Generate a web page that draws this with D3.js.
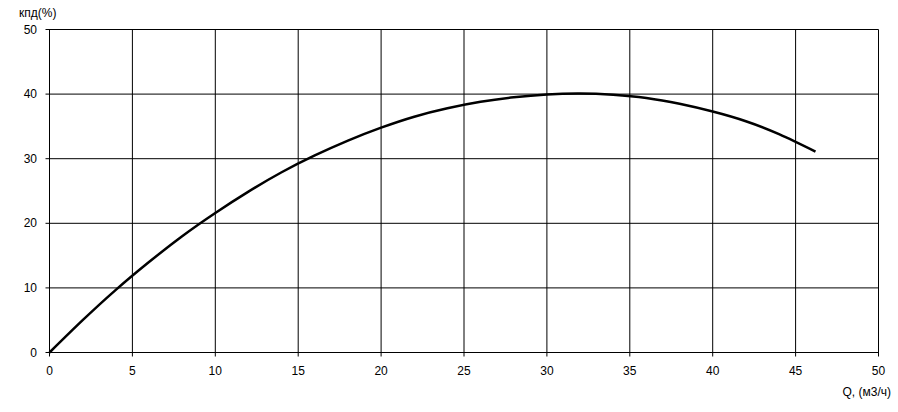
<!DOCTYPE html>
<html><head><meta charset="utf-8">
<script src="https://cdn.jsdelivr.net/npm/d3@7"></script>
<style>body{margin:0;background:#fff}svg{display:block}text{font-family:"Liberation Sans",Arial,sans-serif;font-size:12px;fill:#000}</style>
</head><body><svg id="c" width="898" height="412"></svg>
<script>
const flowQ = [0,2,4,6,8,10,12,14,16,18,20,22,24,26,28,30,32,34,36,38,40,42,44,46.2];
const efficiency = [0,5.0,9.7,14.0,18.0,21.6,24.9,27.9,30.5,32.8,34.8,36.5,37.8,38.8,39.5,39.95,40.1,39.9,39.4,38.5,37.3,35.8,33.8,31.1];
const xTicks = [0,5,10,15,20,25,30,35,40,45,50];
const yTicks = [0,10,20,30,40,50];
const yTitle = "кпд(%)";
const xTitle = "Q, (м3/ч)";

const svg = d3.select("#c");
const L=49.5, R=878.5, T=29.5, B=352.5;
const x = d3.scaleLinear().domain([0,50]).range([L,R]);
const y = d3.scaleLinear().domain([0,50]).range([B,T]);

const g = svg.append("g");
g.selectAll(".vg").data(xTicks).enter().append("line")
 .attr("x1",d=>x(d)).attr("x2",d=>x(d)).attr("y1",T).attr("y2",B+4).attr("stroke","#000");
g.selectAll(".hg").data(yTicks).enter().append("line")
 .attr("y1",d=>y(d)).attr("y2",d=>y(d)).attr("x1",L-4).attr("x2",R).attr("stroke","#000");

g.selectAll(".xl").data(xTicks).enter().append("text")
 .attr("x",d=>x(d)).attr("y",375).attr("text-anchor","middle").text(d=>d);
g.selectAll(".yl").data(yTicks).enter().append("text")
 .attr("x",37).attr("y",d=>y(d)+4).attr("text-anchor","end").text(d=>d);

svg.append("text").attr("x",19).attr("y",17).text(yTitle);
svg.append("text").attr("x",891).attr("y",396).attr("text-anchor","end").text(xTitle);

const pts = flowQ.map((q,i)=>[q,efficiency[i]]);
svg.append("path").datum(pts)
 .attr("d", d3.line().x(d=>x(d[0])).y(d=>y(d[1])).curve(d3.curveNatural))
 .attr("fill","none").attr("stroke","#000").attr("stroke-width",2.5);
</script></body></html>
